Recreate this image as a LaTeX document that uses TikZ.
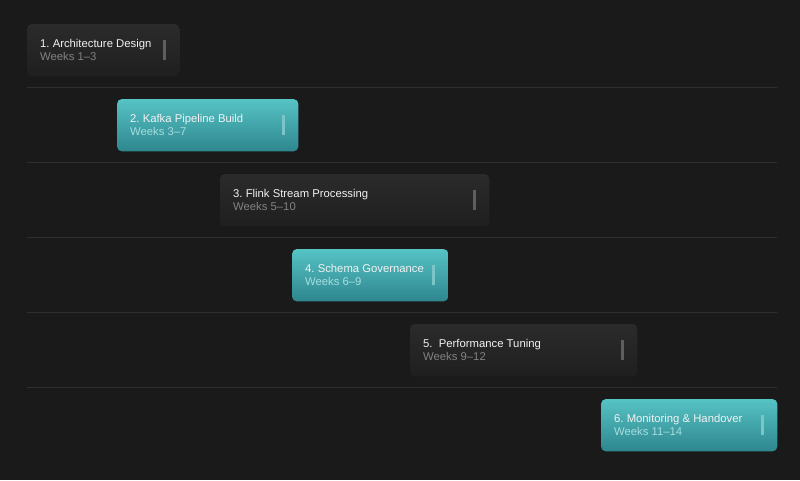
\documentclass[tikz,border=0pt]{standalone}
\usepackage{fontspec}
\setmainfont{Liberation Sans}
\frenchspacing
\definecolor{bg}{HTML}{1A1A1A}
\definecolor{sep}{HTML}{2E2E2E}
\definecolor{darktop}{HTML}{2B2B2B}
\definecolor{darkbot}{HTML}{1F1F1F}
\definecolor{tealtop}{HTML}{56C3C5}
\definecolor{tealbot}{HTML}{2E868E}
\definecolor{titlec}{HTML}{F2F2F2}
\definecolor{darksub}{HTML}{828282}
\definecolor{tealsub}{HTML}{A6DEDF}
\definecolor{darkbar}{HTML}{5E5E5E}
\definecolor{tealbar}{HTML}{7DC4C6}
\tikzset{
  boxframe/.style={rectangle, draw=none, inner sep=0pt, anchor=north west},
  darkfill/.style={rounded corners=5pt, top color=darktop, bottom color=darkbot},
  tealfill/.style={rounded corners=5pt, top color=tealtop, bottom color=tealbot},
  titletext/.style={anchor=base west, inner sep=0pt, font=\fontsize{11.3}{13}\selectfont, text=titlec},
  subtext/.style={anchor=base west, inner sep=0pt, font=\fontsize{11.3}{13}\selectfont},
  sepline/.style={draw=sep, line width=1pt},
  handle/.style={line width=2.5pt},
}
\newcommand{\taskbar}[8]{%
  % #1 name, #2 x1, #3 y1, #4 x2, #5 fill style, #6 sub colour, #7 title, #8 weeks
  \node[boxframe, minimum width={#4-#2}, minimum height=52] (#1) at (#2,#3) {};
  \shade[#5] (#1.north west) rectangle (#1.south east);
  \node[titletext] (#1t) at ([xshift=13pt,yshift=-23pt]#1.north west) {#7};
  \node[subtext, text=#6] (#1w) at ([xshift=13pt,yshift=-36pt]#1.north west) {#8};
}
\begin{document}
\begin{tikzpicture}[x=1pt,y=-1pt]
\fill[bg] (0,0) rectangle (800,480);
\useasboundingbox (0,0) rectangle (800,480);
% separators
\coordinate (s1a) at (27,87.5); \coordinate (s1b) at (777,87.5);
\coordinate (s2a) at (27,162.5); \coordinate (s2b) at (777,162.5);
\coordinate (s3a) at (27,237.5); \coordinate (s3b) at (777,237.5);
\coordinate (s4a) at (27,312.5); \coordinate (s4b) at (777,312.5);
\coordinate (s5a) at (27,387.5); \coordinate (s5b) at (777,387.5);
\foreach \i in {1,...,5} { \draw[sepline] (s\i a) -- (s\i b); }
% tasks
\taskbar{t1}{27}{24}{179}{darkfill}{darksub}{1. Architecture Design}{Weeks 1–3}
\taskbar{t2}{117}{99}{298}{tealfill}{tealsub}{2. Kafka Pipeline Build}{Weeks 3–7}
\taskbar{t3}{220}{174}{489}{darkfill}{darksub}{3. Flink Stream Processing}{Weeks 5–10}
\taskbar{t4}{292}{249}{448}{tealfill}{tealsub}{4. Schema Governance}{Weeks 6–9}
\taskbar{t5}{410}{324}{637}{darkfill}{darksub}{5.\ \ Performance Tuning}{Weeks 9–12}
\taskbar{t6}{601}{399}{777}{tealfill}{tealsub}{6. Monitoring \& Handover}{Weeks 11–14}
% handles
\foreach \n/\c in {t1/darkbar,t3/darkbar,t5/darkbar,t2/tealbar,t4/tealbar,t6/tealbar} {
  \draw[handle, draw=\c] ([xshift=-15pt,yshift=-16pt]\n.north east) -- ([xshift=-15pt,yshift=-36pt]\n.north east);
}
\end{tikzpicture}
\end{document}
